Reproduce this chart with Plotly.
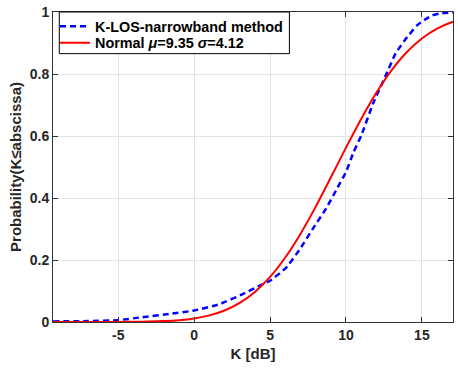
import plotly.graph_objects as go

k_los_x = [-9.3, -7, -5, -3.5, -1.5, 0, 1.7, 3.2, 4.3, 5, 6.05, 6.95, 7.8, 8.7,
           9.36, 10.0, 10.5, 11.0, 11.8, 12.66, 13.27, 14.04, 14.7, 15.2, 15.7,
           16.3, 17.05]
k_los_y = [0.002, 0.003, 0.006, 0.015, 0.027, 0.037, 0.058, 0.09, 0.117, 0.133, 0.175,
           0.234, 0.3, 0.367, 0.426, 0.484, 0.548, 0.601, 0.707, 0.8, 0.867, 0.92,
           0.958, 0.976, 0.99, 0.997, 0.999]

# Normal CDF curve (red) values
normal_x = [-9.3, -8, -7, -6, -5, -4, -3, -2, -1, 0, 1, 2, 3, 4, 5, 6, 7, 8, 9,
            10, 11, 12, 13, 14, 15, 16, 17, 17.05]
normal_y = [0.0, 0.00001, 0.00004, 0.0001, 0.00025, 0.0006, 0.0014, 0.0029, 0.006,
            0.0116, 0.0213, 0.0372, 0.0617, 0.097, 0.1455, 0.2081, 0.2843, 0.3715,
            0.4661, 0.5627, 0.6555, 0.7399, 0.8122, 0.8705, 0.9149, 0.9468, 0.9683, 0.969]

x_ticks = [-5, 0, 5, 10, 15]
y_ticks = [0, 0.2, 0.4, 0.6, 0.8, 1]
y_tick_labels = ["0", "0.2", "0.4", "0.6", "0.8", "1"]

FONT = "Liberation Sans, Arial, sans-serif"
TXT = "#262626"

fig = go.Figure()
fig.add_trace(go.Scatter(
    x=k_los_x, y=k_los_y, mode="lines", name="<b>K-LOS-narrowband method</b>",
    line=dict(color="#0000ff", width=2.5, dash="6px,4px", shape="spline", smoothing=0.4),
    legend="legend",
))
fig.add_trace(go.Scatter(
    x=normal_x, y=normal_y, mode="lines",
    name="<b>Normal <i>μ</i>=9.35 <i>σ</i>=4.12</b>",
    line=dict(color="#ff0000", width=2, shape="spline", smoothing=0.6),
    legend="legend2",
))

axis_common = dict(
    showline=True, linecolor="#333333", linewidth=1, mirror="ticks",
    ticks="inside", ticklen=5, tickcolor="#333333",
    showgrid=True, gridcolor="#e3e3e3", gridwidth=1, zeroline=False,
    tickfont=dict(family=FONT, size=14, color=TXT),
    ticklabeloverflow="allow",
)

fig.update_xaxes(
    range=[-9.3, 17.05], tickvals=x_ticks,
    ticktext=[f"<b>{v}</b>" for v in x_ticks],
    title=dict(text="<b>K [dB]</b>", font=dict(family=FONT, size=15, color=TXT), standoff=6),
    **axis_common,
)
fig.update_yaxes(
    range=[0, 1.0005], tickvals=y_ticks,
    ticktext=[f"<b>{t}</b>" for t in y_tick_labels],
    title=dict(text="<b>Probability(K≤abscissa)</b>", font=dict(family=FONT, size=15, color=TXT), standoff=4),
    **axis_common,
)

legend_common = dict(
    xanchor="left", yanchor="middle",
    bgcolor="rgba(0,0,0,0)", borderwidth=0,
    font=dict(family=FONT, size=14.4, color="#000000"),
    itemwidth=30,
)

fig.update_layout(
    width=458, height=378,
    margin=dict(l=53, r=4, t=7, b=56),
    plot_bgcolor="white", paper_bgcolor="white",
    font=dict(family=FONT, color=TXT),
    legend=dict(x=0.005, y=0.9533, **legend_common),
    legend2=dict(x=0.005, y=0.9006, **legend_common),
    showlegend=True,
    shapes=[dict(
        type="rect", xref="paper", yref="paper",
        x0=0.0157, x1=0.591, y0=0.8657, y1=1.0,
        fillcolor="white", line=dict(color="#000000", width=1), layer="above",
    )],
)

fig.write_html("out.html")
